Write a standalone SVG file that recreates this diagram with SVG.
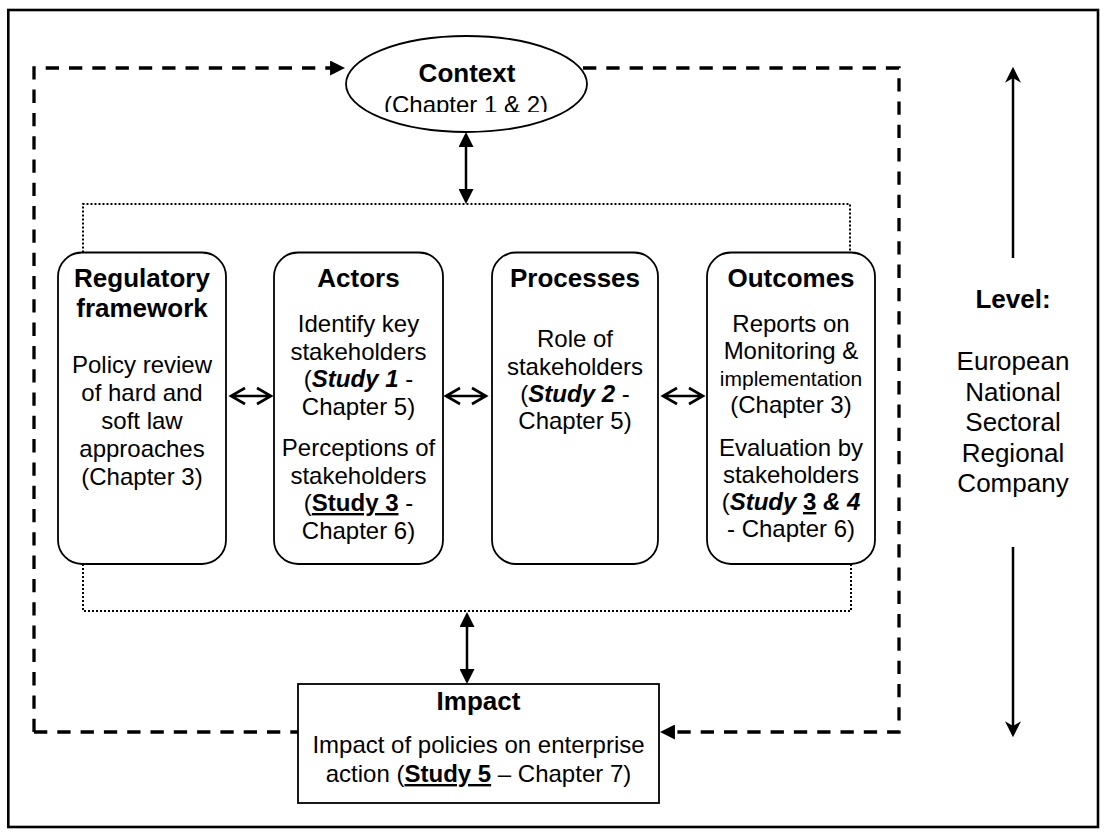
<svg xmlns="http://www.w3.org/2000/svg" width="1106" height="834" viewBox="0 0 1106 834">
<style>
text{font-family:"Liberation Sans",Arial,sans-serif;fill:#000;text-anchor:middle}
.h{font-size:26px;font-weight:bold}
.t{font-size:24px}
.s{font-size:21px}
.lv{font-size:26px}
.bi{font-weight:bold;font-style:italic}
.bu{font-weight:bold;text-decoration:underline}
.box{fill:#fff;stroke:#000;stroke-width:1.8}
.dash{fill:none;stroke:#000;stroke-width:3.3;stroke-dasharray:13.3 10}
.dot{fill:none;stroke:#000;stroke-width:2;stroke-dasharray:2 2}
.solid{fill:none;stroke:#000;stroke-width:2.5}
.chev{fill:none;stroke:#000;stroke-width:2.6}
</style>
<defs>
<marker id="tri" viewBox="0 0 10 10" refX="7.3" refY="5" markerUnits="userSpaceOnUse" markerWidth="15" markerHeight="15" orient="auto-start-reverse"><path d="M0,0 L10,5 L0,10 z" fill="#000"/></marker>
<marker id="stealth" viewBox="0 0 10 10" refX="8" refY="5" markerUnits="userSpaceOnUse" markerWidth="16" markerHeight="16" orient="auto"><path d="M0,0 L10,5 L0,10 L3,5 z" fill="#000"/></marker>
<clipPath id="ctxclip"><rect x="300" y="0" width="330" height="112"/></clipPath>
</defs>
<rect x="8.3" y="10" width="1089.7" height="817" fill="none" stroke="#000" stroke-width="2.6"/>
<g id="connectors">
<path class="dash" d="M34,732 L34,68 L341,68" marker-end="url(#tri)"/>
<path class="dash" d="M583,68 L899,68 L899,732 L664,732" marker-end="url(#tri)"/>
<path class="dash" d="M34,732 L298,732"/>
<path class="dot" d="M83,252.5 L83,204 L850,204 L850,252.5"/>
<path class="dot" d="M83,564 L83,611 L851,611 L851,564"/>
<path class="solid" d="M466,136 L466,200" marker-start="url(#tri)" marker-end="url(#tri)"/>
<path class="solid" d="M467,616 L467,680" marker-start="url(#tri)" marker-end="url(#tri)"/>
<path class="chev" d="M231,396 L271,396 M245,388 L231,396 L245,404 M257,388 L271,396 L257,404"/>
<path class="chev" d="M446,396 L486,396 M460,388 L446,396 L460,404 M472,388 L486,396 L472,404"/>
<path class="chev" d="M663,396 L703,396 M677,388 L663,396 L677,404 M689,388 L703,396 L689,404"/>
<path class="solid" d="M1013,258 L1013,70" marker-end="url(#stealth)"/>
<path class="solid" d="M1013,547 L1013,734" marker-end="url(#stealth)"/>
</g>
<g id="context">
<ellipse cx="466.5" cy="84" rx="120.5" ry="48" class="box"/>
<text class="h" x="467" y="82">Context</text>
<text class="t" x="466" y="113" clip-path="url(#ctxclip)">(Chapter 1 &amp; 2)</text>
</g>
<g id="regulatory">
<rect x="58" y="252.5" width="168" height="311.5" rx="24" class="box"/>
<text class="h" x="142" y="287">Regulatory</text>
<text class="h" x="142" y="317">framework</text>
<text class="t" x="142" y="373">Policy review</text>
<text class="t" x="142" y="401">of hard and</text>
<text class="t" x="142" y="429">soft law</text>
<text class="t" x="142" y="457">approaches</text>
<text class="t" x="142" y="485">(Chapter 3)</text>
</g>
<g id="actors">
<rect x="274" y="252.5" width="169" height="311.5" rx="24" class="box"/>
<text class="h" x="358.5" y="287">Actors</text>
<text class="t" x="358.5" y="332">Identify key</text>
<text class="t" x="358.5" y="359.5">stakeholders</text>
<text class="t" x="358.5" y="387">(<tspan class="bi">Study 1</tspan> -</text>
<text class="t" x="358.5" y="414.5">Chapter 5)</text>
<text class="t" x="358.5" y="456">Perceptions of</text>
<text class="t" x="358.5" y="483.5">stakeholders</text>
<text class="t" x="358.5" y="511">(<tspan class="bu">Study 3</tspan> -</text>
<text class="t" x="358.5" y="538.5">Chapter 6)</text>
</g>
<g id="processes">
<rect x="492" y="252.5" width="166" height="311.5" rx="24" class="box"/>
<text class="h" x="575" y="287">Processes</text>
<text class="t" x="575" y="347">Role of</text>
<text class="t" x="575" y="375">stakeholders</text>
<text class="t" x="575" y="402">(<tspan class="bi">Study 2</tspan> -</text>
<text class="t" x="575" y="429">Chapter 5)</text>
</g>
<g id="outcomes">
<rect x="707" y="252.5" width="168" height="311.5" rx="24" class="box"/>
<text class="h" x="791" y="287">Outcomes</text>
<text class="t" x="791" y="332">Reports on</text>
<text class="t" x="791" y="359">Monitoring &amp;</text>
<text class="s" x="791" y="386">implementation</text>
<text class="t" x="791" y="413">(Chapter 3)</text>
<text class="t" x="791" y="456">Evaluation by</text>
<text class="t" x="791" y="483">stakeholders</text>
<text class="t" x="791" y="510">(<tspan class="bi">Study</tspan> <tspan class="bu">3</tspan><tspan class="bi"> &amp; 4</tspan></text>
<text class="t" x="791" y="537">- Chapter 6)</text>
</g>
<g id="impact">
<rect x="298" y="684" width="361" height="119" class="box"/>
<text class="h" x="478.5" y="710">Impact</text>
<text class="t" x="478.5" y="753">Impact of policies on enterprise</text>
<text class="t" x="478.5" y="782">action (<tspan class="bu">Study 5</tspan> – Chapter 7)</text>
</g>
<g id="level">
<text class="h" x="1013" y="308">Level:</text>
<text class="lv" x="1013" y="370">European</text>
<text class="lv" x="1013" y="401">National</text>
<text class="lv" x="1013" y="431">Sectoral</text>
<text class="lv" x="1013" y="462">Regional</text>
<text class="lv" x="1013" y="492">Company</text>
</g>
</svg>
